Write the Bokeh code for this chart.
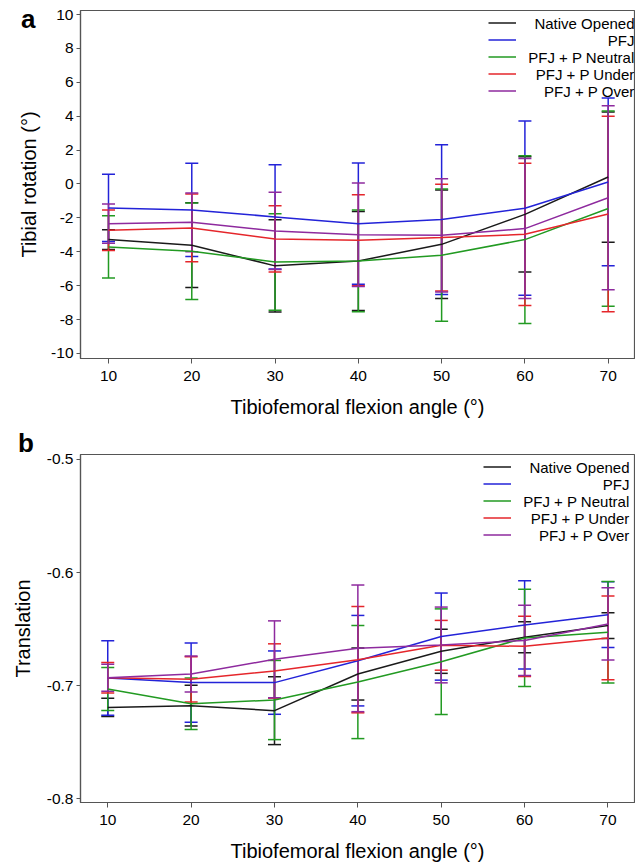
from bokeh.plotting import figure
from bokeh.models import (ColumnDataSource, Whisker, TeeHead, Legend, LegendItem,
                          Label, Range1d, FixedTicker, PrintfTickFormatter, Div)
from bokeh.core.properties import value
from bokeh.layouts import column
from bokeh.embed import file_html
from bokeh.resources import INLINE

# ---------------- data ----------------
angles = [10, 20, 30, 40, 50, 60, 70]
series_names = ["Native Opened", "PFJ", "PFJ + P Neutral", "PFJ + P Under", "PFJ + P Over"]
series_colors = ["#1a1a1a", "#2323d8", "#229a22", "#e5262b", "#8e2a9e"]

# panel a: tibial rotation (deg), mean and SD
rot_native_mean = [-3.28, -3.61, -4.83, -4.54, -3.56, -1.79, 0.41]
rot_native_sd = [0.58, 2.5, 2.72, 2.92, 3.2, 3.4, 3.84]
rot_pfj_mean = [-1.41, -1.53, -1.94, -2.34, -2.1, -1.43, 0.12]
rot_pfj_sd = [1.98, 2.75, 3.08, 3.58, 4.42, 5.14, 4.95]
rot_neutral_mean = [-3.71, -3.97, -4.6, -4.54, -4.2, -3.28, -1.45]
rot_neutral_sd = [1.83, 2.85, 2.85, 3.0, 3.9, 4.95, 5.76]
rot_under_mean = [-2.73, -2.59, -3.24, -3.32, -3.16, -2.97, -1.77]
rot_under_sd = [1.2, 2.0, 1.95, 2.68, 3.15, 4.2, 5.77]
rot_over_mean = [-2.34, -2.26, -2.77, -2.99, -3.03, -2.63, -0.81]
rot_over_sd = [1.16, 1.73, 2.28, 3.05, 3.34, 4.13, 5.43]
rot_ticks = [-10, -8, -6, -4, -2, 0, 2, 4, 6, 8, 10]

# panel b: translation, mean and SD
tr_native_mean = [-0.7192, -0.7177, -0.7221, -0.6897, -0.6696, -0.6572, -0.6469]
tr_native_sd = [0.008, 0.018, 0.030, 0.023, 0.0195, 0.0138, 0.0113]
tr_pfj_mean = [-0.6932, -0.6973, -0.6973, -0.6779, -0.6566, -0.6463, -0.6372]
tr_pfj_sd = [0.033, 0.035, 0.028, 0.040, 0.0385, 0.039, 0.029]
tr_neutral_mean = [-0.7030, -0.7160, -0.7127, -0.6968, -0.6788, -0.6578, -0.6528]
tr_neutral_sd = [0.019, 0.0227, 0.035, 0.050, 0.0467, 0.043, 0.0448]
tr_under_mean = [-0.6930, -0.6944, -0.6870, -0.6770, -0.6643, -0.6652, -0.6578]
tr_under_sd = [0.0135, 0.020, 0.024, 0.047, 0.022, 0.0266, 0.037]
tr_over_mean = [-0.6930, -0.6897, -0.6767, -0.6670, -0.6640, -0.6600, -0.6454]
tr_over_sd = [0.012, 0.016, 0.034, 0.056, 0.0335, 0.031, 0.032]
tr_ticks = [-0.8, -0.7, -0.6, -0.5]

FONT = "Liberation Sans"
GREY = "#555555"


def make_panel(means, sds, y_label, y_ticks, y_fmt, x_rng, y_rng, height,
               border_left, border_top, border_bottom, y_label_standoff,
               legend_loc, text_x, text_y0):
    p = figure(width=635, height=height, output_backend="svg", toolbar_location=None,
               x_range=Range1d(*x_rng), y_range=Range1d(*y_rng),
               min_border_left=border_left, min_border_right=1,
               min_border_top=border_top, min_border_bottom=border_bottom)
    p.grid.visible = False
    p.outline_line_color = GREY
    p.outline_line_width = 1.2
    p.background_fill_color = "white"
    p.border_fill_color = "white"

    items = []
    for name, color, m, s in zip(series_names, series_colors, means, sds):
        src = ColumnDataSource(dict(x=angles, y=m,
                                    upper=[a + b for a, b in zip(m, s)],
                                    lower=[a - b for a, b in zip(m, s)]))
        w = Whisker(source=src, base="x", upper="upper", lower="lower",
                    line_color=color, line_width=1.5,
                    upper_head=TeeHead(size=13, line_color=color, line_width=1.5),
                    lower_head=TeeHead(size=13, line_color=color, line_width=1.5))
        p.add_layout(w)
        r = p.line("x", "y", source=src, line_color=color, line_width=1.5)
        items.append(LegendItem(label=value(" "), renderers=[r]))

    # legend sample lines (Bokeh legend); the names are drawn right-aligned below
    legend = Legend(items=items, location=legend_loc,
                    glyph_width=28, glyph_height=17, label_height=17,
                    spacing=0, padding=0, margin=0, label_standoff=2,
                    label_text_font=FONT, label_text_font_size="15px",
                    border_line_color=None, background_fill_alpha=0)
    p.add_layout(legend)
    for i, name in enumerate(series_names):
        p.add_layout(Label(x=text_x, y=text_y0 - 17 * i, x_units="screen", y_units="screen",
                           text=name, text_font=FONT, text_font_size="15px",
                           text_align="right", text_baseline="middle",
                           text_color="black"))

    for ax in (p.xaxis[0], p.yaxis[0]):
        ax.axis_line_color = GREY
        ax.axis_line_width = 1.2
        ax.major_tick_line_color = GREY
        ax.major_tick_in = 0
        ax.minor_tick_line_color = None
        ax.major_label_text_font = FONT
        ax.major_label_text_font_size = "15.5px"
        ax.major_label_text_color = "black"
        ax.axis_label_text_font = FONT
        ax.axis_label_text_font_size = "20px"
        ax.axis_label_text_font_style = "normal"
        ax.axis_label_text_color = "black"

    p.xaxis.ticker = FixedTicker(ticks=angles)
    p.xaxis.formatter = PrintfTickFormatter(format="%d")
    p.xaxis.major_tick_out = 5
    p.xaxis.major_label_standoff = 7
    p.xaxis.axis_label_standoff = 12
    p.xaxis.axis_label = "Tibiofemoral flexion angle (°)"

    p.yaxis.ticker = FixedTicker(ticks=y_ticks)
    p.yaxis.formatter = PrintfTickFormatter(format=y_fmt)
    p.yaxis.major_tick_out = 4
    p.yaxis.major_label_standoff = 3
    p.yaxis.axis_label_standoff = y_label_standoff
    p.yaxis.axis_label = y_label
    return p


def panel_letter(letter, left, top):
    return Div(text=letter, width=24, height=30,
               styles={"position": "absolute", "left": f"{left}px", "top": f"{top}px",
                       "z-index": "10", "font-family": FONT, "font-size": "26px",
                       "font-weight": "bold", "line-height": "26px", "color": "black"})


top = make_panel([rot_native_mean, rot_pfj_mean, rot_neutral_mean, rot_under_mean, rot_over_mean],
                 [rot_native_sd, rot_pfj_sd, rot_neutral_sd, rot_under_sd, rot_over_sd],
                 "Tibial rotation (°)", rot_ticks, "%d",
                 (6.638, 73.16), (-10.295, 10.236), 430,
                 75, 10, 72, 8, (408, 258.8), 554, 335.3)

bottom = make_panel([tr_native_mean, tr_pfj_mean, tr_neutral_mean, tr_under_mean, tr_over_mean],
                    [tr_native_sd, tr_pfj_sd, tr_neutral_sd, tr_under_sd, tr_over_sd],
                    "Translation", tr_ticks, "%.1f",
                    (6.732, 73.18), (-0.8033, -0.4956), 438,
                    80, 24, 66, 10, (403, 258.8), 549, 335.3)

layout = column(top, bottom, panel_letter("a", 16, 1), panel_letter("b", 13, 425), spacing=0)
open("out.html", "w").write(file_html(layout, INLINE))
